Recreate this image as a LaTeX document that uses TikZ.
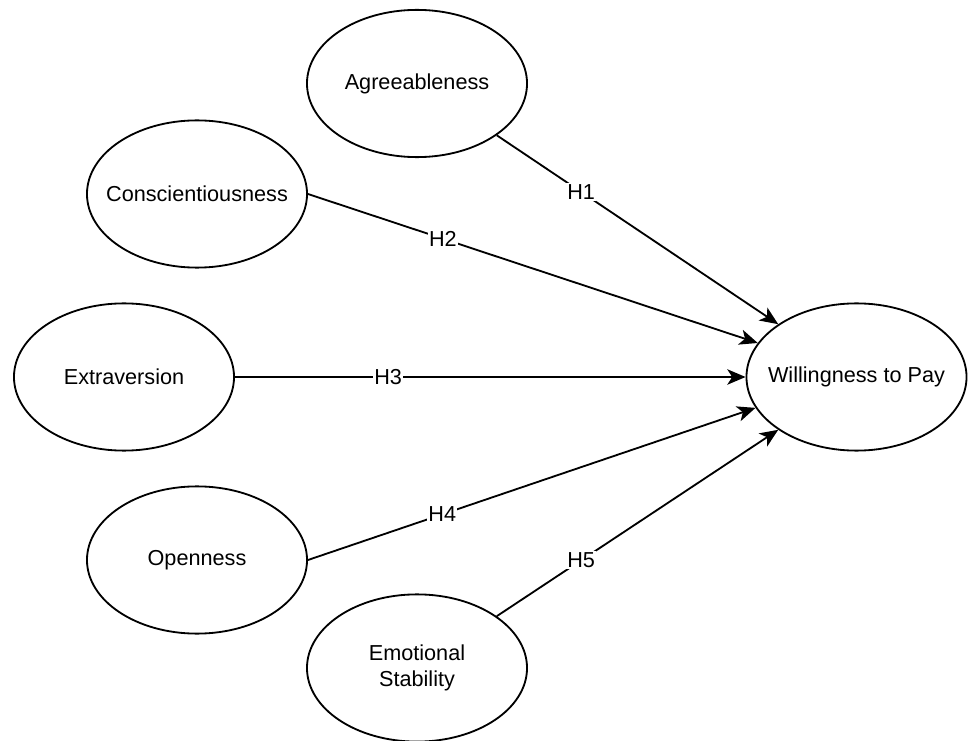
\documentclass[tikz,border=0pt]{standalone}
\usepackage{fontspec}
\setmainfont{Liberation Sans}
\usetikzlibrary{shapes.geometric, arrows.meta}

\begin{document}
\begin{tikzpicture}[x=0.025cm, y=-0.025cm,
        construct/.style={ellipse, draw, line width=1.3pt, minimum width=5.5cm, minimum height=3.68cm, inner xsep=-1cm, inner ysep=0pt, align=center, font=\fontsize{15.4}{19}\selectfont},
        effect/.style={-{Stealth[length=13pt, width=11pt, inset=3.5pt]}, line width=1.3pt},
        hyp/.style={fill=white, inner sep=1pt, font=\fontsize{15.4}{19}\selectfont}]
    \useasboundingbox (0,0) rectangle (968,741);

    \node[construct] (agree) at (417, 83.5) {Agreeableness};
    \node[construct] (consc) at (197, 194) {Conscientiousness};
    \node[construct] (extra) at (124, 377) {Extraversion};
    \node[construct] (open) at (197, 560) {Openness};
    \node[construct] (emo) at (417, 668) {Emotional\\Stability};
    \node[construct] (wtp) at (856.5, 377) {Willingness to Pay};

    \draw
    (agree.-33) edge[effect] node[hyp, pos=0.3] {H1} (wtp.146)
    (consc.east) edge[effect] node[hyp, pos=0.3] {H2} (wtp.161)
    (extra.east) edge[effect] node[hyp, pos=0.3] {H3} (wtp.west)
    (open.east) edge[effect] node[hyp, pos=0.3] {H4} (wtp.-163)
    (emo.33) edge[effect] node[hyp, pos=0.3] {H5} (wtp.-146);
\end{tikzpicture}
\end{document}
